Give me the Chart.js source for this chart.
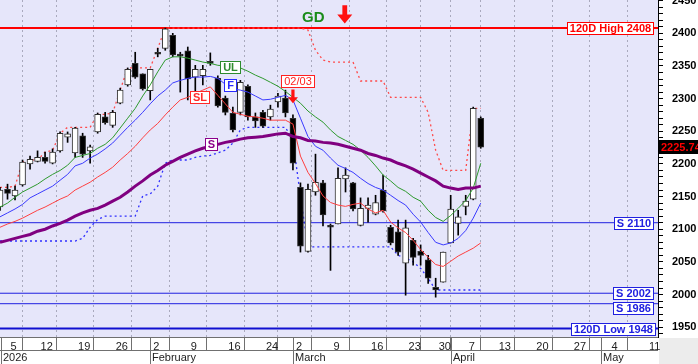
<!DOCTYPE html>
<html>
<head>
<meta charset="utf-8">
<script src="https://cdn.jsdelivr.net/npm/chart.js@4.4.1/dist/chart.umd.min.js"></script>
<style>
  html, body { margin: 0; padding: 0; background: #fff; }
  canvas { display: block; }
</style>
</head>
<body>
<canvas id="priceChart" width="698" height="364"></canvas>
<script>
// session slots start at -1 (last session before the first week tick)
const firstSlot = -1;

const ohlcOpen  = [2134,2161,2151,2168,2200,2204,2210,2201,2220,2241,2217,2243,2220,2249,2272,2259,2293,2321,2354,2338,2312,2370,2377,2397,2366,2373,2333,2335,2355,2331,2301,2278,2279,2319,2272,2279,2272,2295,2301,2270,2164,2066,2157,2171,2106,2108,2177,2171,2106,2132,2123,2160,2103,2096,2048,2083,2066,2053,2011,2019,2079,2109,2135,2146,2270];
const ohlcHigh  = [2164,2169,2166,2206,2212,2220,2218,2223,2249,2249,2256,2247,2229,2278,2279,2282,2316,2347,2371,2338,2345,2377,2408,2400,2371,2379,2351,2351,2370,2335,2304,2287,2328,2321,2278,2282,2290,2308,2313,2275,2171,2169,2215,2175,2108,2194,2194,2172,2148,2148,2152,2183,2106,2114,2114,2086,2076,2060,2025,2065,2152,2129,2152,2287,2272];
const ohlcLow   = [2129,2146,2145,2166,2192,2203,2201,2200,2218,2233,2210,2210,2201,2247,2261,2256,2292,2319,2331,2313,2298,2364,2374,2364,2310,2298,2310,2321,2351,2287,2275,2249,2275,2267,2256,2256,2267,2287,2272,2191,2065,2065,2152,2105,2037,2108,2157,2128,2105,2111,2122,2126,2076,2060,1999,2045,2045,2017,1996,2019,2079,2091,2122,2145,2224];
const ohlcClose = [2160,2155,2160,2203,2207,2210,2204,2218,2247,2246,2255,2215,2226,2276,2263,2279,2313,2345,2333,2315,2345,2368,2407,2367,2365,2330,2345,2345,2354,2289,2279,2252,2325,2272,2266,2258,2284,2304,2278,2201,2074,2161,2172,2122,2103,2178,2183,2131,2132,2137,2141,2128,2079,2065,2102,2057,2060,2025,2007,2065,2131,2119,2143,2285,2225.74];

// indicator lines (one value per session)
const lineUL = [2134,2140,2149,2157,2163,2169,2177,2184,2190,2198,2210,2213,2216,2224,2230,2240,2255,2270,2285,2304,2321,2341,2359,2364,2364,2362,2359,2356,2354,2351,2350,2348,2347,2342,2336,2331,2325,2319,2311,2302,2293,2281,2272,2264,2252,2242,2236,2230,2221,2210,2197,2183,2174,2164,2158,2149,2143,2129,2118,2112,2121,2132,2144,2163,2201];
const lineF  = [2119,2125,2131,2138,2148,2154,2160,2166,2175,2184,2197,2201,2209,2215,2223,2232,2244,2256,2267,2279,2292,2304,2313,2324,2328,2331,2333,2333,2334,2331,2322,2315,2313,2310,2304,2298,2299,2302,2305,2298,2270,2242,2227,2221,2209,2198,2193,2187,2178,2170,2164,2160,2152,2144,2137,2123,2111,2095,2080,2076,2079,2086,2098,2117,2140];
const lineSL = [2103,2108,2112,2117,2123,2129,2134,2140,2146,2151,2160,2166,2172,2180,2187,2195,2206,2216,2227,2240,2252,2262,2275,2287,2298,2302,2308,2313,2318,2305,2292,2279,2276,2273,2272,2270,2267,2267,2267,2261,2212,2187,2170,2151,2141,2137,2135,2138,2140,2131,2125,2129,2111,2102,2095,2083,2069,2057,2046,2043,2051,2059,2065,2071,2079];
const lineS  = [2080,2083,2086,2089,2092,2097,2100,2105,2109,2114,2120,2125,2129,2132,2137,2143,2149,2157,2166,2174,2183,2190,2198,2204,2210,2215,2220,2224,2227,2230,2233,2235,2238,2240,2241,2242,2244,2246,2247,2242,2240,2236,2235,2233,2232,2230,2227,2224,2221,2216,2213,2209,2206,2201,2197,2192,2186,2180,2174,2166,2163,2161,2163,2163,2166];
const trailHigh = [2164,2164,2166,2203,2206,2206,2218,2221,2247,2256,2256,2256,2256,2276,2276,2278,2313,2347,2347,2347,2347,2377,2408,2408,2408,2408,2408,2408,2408,2408,2408,2408,2408,2408,2408,2408,2408,2408,2408,2408,2408,2405,2374,2359,2356,2356,2356,2356,2327,2327,2327,2327,2302,2302,2302,2302,2302,2279,2221,2190,2190,2190,2190,2285,2285];
const trailLow  = [2082,2082,2082,2082,2082,2082,2082,2082,2082,2082,2082,2086,2103,2115,2120,2120,2120,2120,2120,2151,2154,2166,2201,2206,2206,2206,2210,2212,2213,2217,2221,2232,2252,2256,2256,2256,2256,2256,2256,2236,2150,2073,2073,2073,2073,2073,2073,2073,2073,2073,2073,2073,2073,2060,2056,2050,2040,2025,2007,2007,2007,2007,2007,2007,2007];

// horizontal levels
const high120 = 2408;
const low120 = 1948;
const supportLevels = [2110, 2002, 1986];

// x axis
const weekSlots  = [0, 4, 9, 14, 19, 24, 29, 34, 38, 43, 48, 53, 57, 61, 65, 70, 75, 80, 85];
const weekLabels = ['5','12','19','26','2','9','16','24','2','9','16','23','30','7','13','20','27','4','11'];
const monthSlots = [-1, 19, 38, 59, 79];
const monthNames = ['2026', 'February', 'March', 'April', 'May'];

const X_MIN = -1, X_MAX = 86.6;
const FONT = "'Liberation Sans', Arial, sans-serif";

const toPoints = arr => arr.map((v, k) => ({ x: firstSlot + k, y: v }));
const flatLine = v => [{ x: X_MIN, y: v }, { x: X_MAX, y: v }];

const bodies = ohlcOpen.map((o, k) => ({ x: firstSlot + k, y: [o, ohlcClose[k]] }));
const wicks = ohlcLow.map((l, k) => ({ x: firstSlot + k, y: [l, ohlcHigh[k]] }));
const bodyColors = ohlcOpen.map((o, k) => ohlcClose[k] >= o ? '#ffffff' : '#000000');

function drawTag(ctx, text, cx, cy, color, font) {
    ctx.font = font;
    const w = Math.round(ctx.measureText(text).width) + 5;
    const h = 12;
    const x = Math.round(cx - w / 2) + 0.5, y = Math.round(cy - h / 2) + 0.5;
    ctx.fillStyle = '#fff';
    ctx.fillRect(x, y, w, h);
    ctx.strokeStyle = color;
    ctx.lineWidth = 1;
    ctx.strokeRect(x, y, w, h);
    ctx.fillStyle = color;
    ctx.textAlign = 'center';
    ctx.textBaseline = 'middle';
    ctx.fillText(text, x + w / 2, y + h / 2 + 0.5);
}

function drawTagRight(ctx, text, right, cy, color) {
    ctx.font = 'bold 11px ' + FONT;
    const w = Math.round(ctx.measureText(text).width) + 5;
    drawTag(ctx, text, right - w / 2, cy, color, 'bold 11px ' + FONT);
}

function downArrow(ctx, cx, top, bottom, width, color) {
    const head = width * 0.6;
    const shaft = width * 0.32;
    ctx.fillStyle = color;
    ctx.beginPath();
    ctx.moveTo(cx - shaft / 2, top);
    ctx.lineTo(cx + shaft / 2, top);
    ctx.lineTo(cx + shaft / 2, bottom - head);
    ctx.lineTo(cx + width / 2, bottom - head);
    ctx.lineTo(cx, bottom);
    ctx.lineTo(cx - width / 2, bottom - head);
    ctx.lineTo(cx - shaft / 2, bottom - head);
    ctx.closePath();
    ctx.fill();
}

const chartDecor = {
    id: 'chartDecor',
    beforeDraw(chart) {
        const { ctx, chartArea: a } = chart;
        ctx.save();
        ctx.fillStyle = '#ffffff';
        ctx.fillRect(0, 0, chart.width, chart.height);
        ctx.fillStyle = '#e6e6fa';
        ctx.fillRect(a.left, a.top, a.right - a.left, a.bottom - a.top);
        ctx.fillStyle = '#ececec';
        ctx.fillRect(a.right + 1, a.bottom + 1, chart.width - a.right, chart.height - a.bottom);
        ctx.restore();
    },
    afterDraw(chart) {
        const { ctx, chartArea: a } = chart;
        const xs = chart.scales.x, ys = chart.scales.y;
        const px = v => xs.getPixelForValue(v);
        const py = v => ys.getPixelForValue(v);
        ctx.save();

        // date / month strip borders
        ctx.strokeStyle = '#707070';
        ctx.lineWidth = 1;
        ctx.beginPath();
        ctx.moveTo(0, a.bottom + 0.5); ctx.lineTo(a.right, a.bottom + 0.5);
        ctx.moveTo(0, a.bottom + 13.5); ctx.lineTo(a.right, a.bottom + 13.5);
        ctx.moveTo(1.5, a.bottom); ctx.lineTo(1.5, chart.height);
        ctx.stroke();
        ctx.font = '11px ' + FONT;
        ctx.fillStyle = '#222';
        ctx.textAlign = 'left';
        ctx.textBaseline = 'middle';
        monthSlots.forEach((s, k) => {
            const x = Math.max(1.5, Math.round(px(s)) + 0.5);
            if (k > 0) {
                ctx.beginPath();
                ctx.moveTo(x, a.bottom); ctx.lineTo(x, chart.height);
                ctx.stroke();
            }
            ctx.fillText(monthNames[k], x + 1.5, a.bottom + 20.5);
        });

        // level tags
        drawTagRight(ctx, '120D High ' + high120, a.right - 5, py(high120), '#ff0000');
        const shifts = [0, 0, 4];
        supportLevels.forEach((lv, k) => drawTagRight(ctx, 'S ' + lv, a.right - 5, py(lv) + shifts[k], '#2020e0'));
        drawTagRight(ctx, '120D Low ' + low120, a.right - 3, py(low120), '#2020e0');

        // line names
        drawTag(ctx, 'UL', px(29.6), py(2348), '#2e8b2e', 'bold 11px ' + FONT);
        drawTag(ctx, 'F', px(29.6), py(2321), '#2a2aff', 'bold 11px ' + FONT);
        drawTag(ctx, 'SL', px(25.5), py(2303), '#ff2a2a', 'bold 11px ' + FONT);
        drawTag(ctx, 'S', px(27.1), py(2230), '#8b008b', 'bold 11px ' + FONT);

        // signals
        drawTag(ctx, '02/03', px(38.6), py(2327.6), '#ff2020', '11px ' + FONT);
        downArrow(ctx, px(38), py(2314), py(2293), 10, '#ff1010');
        ctx.font = 'bold 15px ' + FONT;
        ctx.fillStyle = '#1a8c1a';
        ctx.textAlign = 'center';
        ctx.textBaseline = 'middle';
        ctx.fillText('GD', px(40.7), py(2424));
        downArrow(ctx, px(44.9), py(2443), py(2415), 15, '#ff1010');

        // last close marker
        const last = ohlcClose[ohlcClose.length - 1];
        const ly = Math.round(py(last));
        ctx.fillStyle = '#000';
        ctx.fillRect(a.right + 1, ly - 7, chart.width - a.right, 14);
        ctx.fillStyle = '#ff0000';
        ctx.font = 'bold 11px ' + FONT;
        ctx.textAlign = 'left';
        ctx.fillText(last.toFixed(2), a.right + 3, ly + 0.5);
        ctx.restore();
    }
};

const lineStyle = (color, width, dash) => ({
    type: 'line', borderColor: color, borderWidth: width, borderDash: dash || [],
    pointRadius: 0, tension: 0, fill: false
});

new Chart(document.getElementById('priceChart'), {
    type: 'bar',
    data: {
        datasets: [
            { ...lineStyle('#ff0000', 2), data: flatLine(high120), order: 9 },
            { ...lineStyle('#2020e0', 1), data: flatLine(supportLevels[0]), order: 9 },
            { ...lineStyle('#2020e0', 1), data: flatLine(supportLevels[1]), order: 9 },
            { ...lineStyle('#2020e0', 1), data: flatLine(supportLevels[2]), order: 9 },
            { ...lineStyle('#1010d0', 2), data: flatLine(low120), order: 9 },
            { ...lineStyle('#ff4a4a', 1.3, [2, 3]), data: toPoints(trailHigh), order: 8 },
            { ...lineStyle('#3030ff', 1.3, [2, 3]), data: toPoints(trailLow), order: 8 },
            { ...lineStyle('#800080', 3), data: toPoints(lineS), order: 1 },
            { ...lineStyle('#2e9a2e', 1), data: toPoints(lineUL), order: 1 },
            { ...lineStyle('#3a3aff', 1), data: toPoints(lineF), order: 1 },
            { ...lineStyle('#ff4040', 1), data: toPoints(lineSL), order: 1 },
            {
                type: 'bar', data: wicks, grouped: false, barThickness: 1,
                backgroundColor: '#000', borderWidth: 0, order: 3
            },
            {
                type: 'bar', data: bodies, grouped: false, barThickness: 6, minBarLength: 2,
                backgroundColor: bodyColors, borderColor: '#303030', borderWidth: 1,
                borderSkipped: false, order: 2
            }
        ]
    },
    options: {
        responsive: false,
        animation: false,
        devicePixelRatio: 1,
        layout: { padding: 0 },
        plugins: { legend: { display: false }, tooltip: { enabled: false } },
        scales: {
            x: {
                type: 'linear',
                min: X_MIN,
                max: X_MAX,
                offset: false,
                grid: {
                    color: '#a9a9bd', lineWidth: 1,
                    tickLength: 13, tickColor: '#707070', tickBorderDash: []
                },
                border: { display: false, dash: [2, 3] },
                ticks: {
                    autoSkip: false, maxRotation: 0, align: 'start', labelOffset: 3, padding: -10,
                    color: '#222', font: { size: 11, family: FONT },
                    callback: v => weekLabels[weekSlots.indexOf(v)]
                },
                afterBuildTicks: s => { s.ticks = weekSlots.map(v => ({ value: v })); },
                afterFit: s => { s.height = 27; s.paddingLeft = 0; s.paddingRight = 0; }
            },
            y: {
                type: 'linear',
                position: 'right',
                min: 1935,
                max: 2451,
                grid: { drawOnChartArea: false, tickLength: 5, tickColor: '#000' },
                border: { display: true, color: '#000' },
                ticks: {
                    stepSize: 10, includeBounds: false, autoSkip: false, padding: 9,
                    color: '#000', font: { size: 11, weight: 'bold', family: FONT },
                    callback: v => (v % 50 === 0 ? String(v) : '')
                },
                afterFit: s => { s.width = 40; s.paddingTop = 0; s.paddingBottom = 0; }
            }
        }
    },
    plugins: [chartDecor]
});
</script>
</body>
</html>
